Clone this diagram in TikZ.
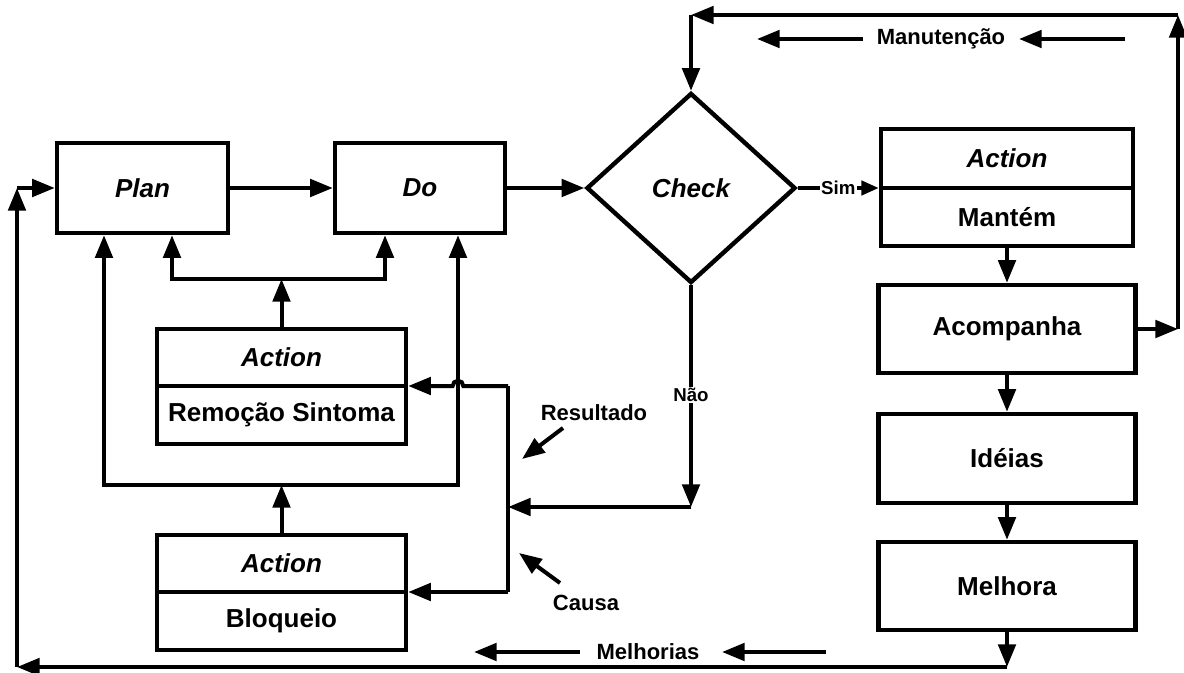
\documentclass[tikz,border=0pt]{standalone}
\usepackage{fontspec}
\setmainfont{Liberation Sans}
\usetikzlibrary{arrows.meta,shapes.geometric}
\begin{document}
\begin{tikzpicture}[x=0.75pt,y=-0.75pt,
  box/.style={draw, line width=3.3pt, inner sep=0pt, font=\fontsize{19.5}{22}\selectfont\bfseries},
  ibox/.style={box, font=\fontsize{19.5}{22}\selectfont\bfseries\itshape},
  conn/.style={line width=3pt, -{Triangle[length=17pt,width=13pt]}},
  sconn/.style={line width=3pt, -{Triangle[length=13pt,width=10.5pt]}},
  plain/.style={line width=3pt},
  lbl/.style={font=\fontsize{16.5}{18}\selectfont\bfseries, inner sep=1pt},
  slbl/.style={font=\fontsize{14}{16}\selectfont\bfseries, fill=white, inner sep=1pt}
]
\useasboundingbox (0,0) rectangle (1184,673);

% boxes
\node[ibox, minimum width=128.25pt, minimum height=67.5pt] (plan) at (142.5,188) {Plan};
\node[ibox, minimum width=127.5pt, minimum height=67.5pt] (do) at (420,188) {Do};
\node[ibox, diamond, minimum width=156.75pt, minimum height=142.5pt] (check) at (691,188) {Check};

\node[ibox, minimum width=189pt, minimum height=44.25pt] (actM) at (1007,158.5) {Action};
\node[box, minimum width=189pt, minimum height=43.5pt] (mantem) at (1007,217) {Mantém};
\node[box, minimum width=192.75pt, minimum height=66pt] (acomp) at (1007,329) {Acompanha};
\node[box, minimum width=192.75pt, minimum height=66.75pt] (ideias) at (1007,458.5) {Idéias};
\node[box, minimum width=192.75pt, minimum height=66pt] (melhora) at (1007,586) {Melhora};

\node[ibox, minimum width=186.75pt, minimum height=42.75pt] (actR) at (281.5,357.5) {Action};
\node[box, minimum width=186.75pt, minimum height=43.5pt] (remocao) at (281.5,415) {Remoção Sintoma};
\node[ibox, minimum width=186.75pt, minimum height=42.75pt] (actB) at (281.5,563.5) {Action};
\node[box, minimum width=186.75pt, minimum height=43.5pt] (bloqueio) at (281.5,621) {Bloqueio};

% coordinates
\coordinate (jA) at (281.5,279);
\coordinate (pA) at (172,279);
\coordinate (dA) at (385,279);
\coordinate (jB) at (281.5,485);
\coordinate (pB) at (104,485);
\coordinate (dB) at (458,485);
\coordinate (vR) at (508,386);
\coordinate (vB) at (508,592);
\coordinate (hump) at (463.3,386);
\coordinate (nN) at (691,507);
\coordinate (vN) at (508,507);
\coordinate (m1) at (1178,329);
\coordinate (m2) at (1178,15);
\coordinate (m3) at (691,15);
\coordinate (b1) at (1007,667);
\coordinate (b2) at (17,667);
\coordinate (b3) at (17,188);

% main flow
\draw[conn] (plan) -- (do);
\draw[conn] (do.east) -- (check.west);
\draw[sconn] (check.east) -- (check.east -| actM.west) node[midway, slbl] {Sim};
\draw[conn] (mantem.south) -- (acomp.north);
\draw[conn] (acomp.south) -- (ideias.north);
\draw[conn] (ideias.south) -- (melhora.north);

% maintenance loop
\draw[conn] (acomp.east) -- (m1);
\draw[conn] (m1) -- (m2);
\draw[conn] (m2) -- (m3);
\draw[conn] (m3) -- (check.north);

% improvement loop
\draw[conn] (melhora.south) -- (b1);
\draw[conn] (b1) -- (b2);
\draw[conn] (b2) -- (b3);
\draw[conn] (b3) -- (plan.west);

% symptom removal
\draw[conn] (actR.north) -- (jA);
\draw[conn] (jA) -- (pA) -- (pA |- plan.south);
\draw[conn] (jA) -- (dA) -- (dA |- do.south);

% blocking
\draw[conn] (actB.north) -- (jB);
\draw[conn] (jB) -- (pB) -- (pB |- plan.south);
\draw[conn] (jB) -- (dB) -- (dB |- do.south);

% Não branch
\draw[conn] (check.south) -- (nN);
\node[slbl] (nao) at (691,395) {Não};
\draw[conn] (nN) -- (vN);
\draw[plain] (vR) -- (vB);
\draw[conn] (vR) -- (hump) arc[start angle=0, end angle=180, radius=4pt] -- (vR -| actR.east);
\draw[conn] (vB) -- (vB -| actB.east);

% labels with arrows
\node[lbl] (res) at (594,413) {Resultado};
\coordinate (r1) at (563,428);
\coordinate (r2) at (522,459);
\draw[conn] (r1) -- (r2);

\node[lbl] (causa) at (586,603) {Causa};
\coordinate (c1) at (560,583);
\coordinate (c2) at (519,553);
\draw[conn] (c1) -- (c2);

\node[lbl] (manut) at (941,39) {Manutenção};
\coordinate (ma1) at (863,39);
\coordinate (ma2) at (757,39);
\coordinate (ma3) at (1125,39);
\coordinate (ma4) at (1019,39);
\draw[conn] (ma1) -- (ma2);
\draw[conn] (ma3) -- (ma4);

\node[lbl] (melh) at (648,652) {Melhorias};
\coordinate (me1) at (580,652);
\coordinate (me2) at (474,652);
\coordinate (me3) at (826,652);
\coordinate (me4) at (722,652);
\draw[conn] (me1) -- (me2);
\draw[conn] (me3) -- (me4);
\end{tikzpicture}
\end{document}
